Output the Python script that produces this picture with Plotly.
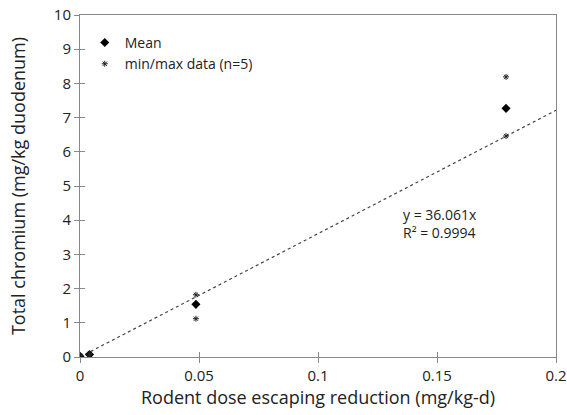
import plotly.graph_objects as go

dose_mean = [0.0, 0.004, 0.0487, 0.179]
cr_mean = [0.02, 0.07, 1.54, 7.27]
dose_minmax = [0.0, 0.0, 0.004, 0.004, 0.0487, 0.0487, 0.179, 0.179]
cr_minmax = [0.0, 0.04, 0.05, 0.09, 1.12, 1.82, 6.46, 8.19]
slope = 36.061
r2 = 0.9994
fit_x = [0.0, 0.2]
fit_y = [slope * v for v in fit_x]

font = "Open Sans, Liberation Sans, sans-serif"
fig = go.Figure()
fig.add_trace(go.Scatter(x=fit_x, y=fit_y, mode="lines", showlegend=False,
                         line=dict(color="#444", width=1.2, dash="dot"), hoverinfo="skip"))
fig.add_trace(go.Scatter(x=dose_mean, y=cr_mean, mode="markers", name="Mean",
                         marker=dict(symbol="diamond", size=7, color="black")))
fig.add_trace(go.Scatter(x=dose_minmax, y=cr_minmax, mode="markers", name="min/max data (n=5)",
                         marker=dict(symbol="asterisk-open", size=5, color="#222",
                                     line=dict(width=1, color="#222"))))

fig.add_annotation(x=0.1347, y=3.89, xref="x", yref="y", xanchor="left", yanchor="middle",
                   text=f"y = {slope}x<br>R² = {r2}", showarrow=False, align="left",
                   font=dict(size=14, color="#222", family=font))

axis_common = dict(showline=True, linecolor="#888", linewidth=1, mirror=True,
                   ticks="outside", ticklen=5, tickcolor="#888", showgrid=False,
                   zeroline=False, automargin=False,
                   tickfont=dict(size=15, color="#222", family=font))
fig.update_xaxes(range=[0, 0.2], tickvals=[0, 0.05, 0.1, 0.15, 0.2],
                 ticktext=["0", "0.05", "0.1", "0.15", "0.2"],
                 title=dict(text="Rodent dose escaping reduction (mg/kg-d)",
                            font=dict(size=18, color="#222", family=font), standoff=4),
                 **axis_common)
fig.update_yaxes(range=[0, 10], dtick=1,
                 title=dict(text="Total chromium (mg/kg duodenum)",
                            font=dict(size=18, color="#222", family=font), standoff=23),
                 **axis_common)
# inner halves of the crossing tick marks
fig.update_layout(
    xaxis2=dict(overlaying="x", anchor="y", side="bottom", range=[0, 0.2],
                tickvals=[0, 0.05, 0.1, 0.15, 0.2], ticks="inside", ticklen=5,
                tickcolor="#888", showticklabels=False, showgrid=False, zeroline=False,
                showline=False),
    yaxis2=dict(overlaying="y", anchor="x", side="left", range=[0, 10], dtick=1,
                ticks="inside", ticklen=5, tickcolor="#888", showticklabels=False,
                showgrid=False, zeroline=False, showline=False),
)
fig.add_trace(go.Scatter(x=[None], y=[None], xaxis="x2", yaxis="y2", showlegend=False,
                         hoverinfo="skip"))
fig.update_layout(width=567, height=415, plot_bgcolor="white", paper_bgcolor="white",
                  margin=dict(l=80, r=11, t=15, b=58),
                  legend=dict(x=0.01, y=0.965, xanchor="left", yanchor="top",
                              bgcolor="rgba(0,0,0,0)", font=dict(size=14, color="#222", family=font),
                              tracegroupgap=2))
fig.write_html("out.html")
